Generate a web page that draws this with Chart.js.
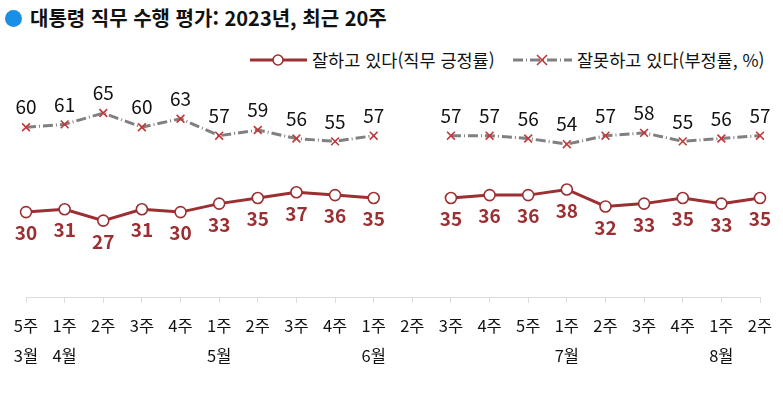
<!DOCTYPE html>
<html lang="ko">
<head>
<meta charset="utf-8">
<script src="https://cdn.jsdelivr.net/npm/chart.js@4"></script>
<style>
  html, body { margin: 0; padding: 0; background: #fff; }
  body { width: 783px; height: 405px; position: relative; overflow: hidden;
         font-family: "Noto Sans CJK KR", "Noto Sans", sans-serif; }
  #title { position: absolute; left: 5px; top: 4px; font-size: 20px; font-weight: bold;
           color: #111; display: flex; align-items: center; line-height: 28px; }
  #title .dot { width: 17px; height: 17px; border-radius: 50%; background: #1a8fe6;
                margin-right: 8px; }
  .legend { position: absolute; top: 47px; display: flex; align-items: center;
            font-size: 17.5px; color: #111; line-height: 26px; }
  .legend svg { margin-right: 3px; }
  #chartWrap { position: absolute; left: 0; top: 0; width: 783px; height: 405px; }
</style>
</head>
<body>
<div id="title"><span class="dot"></span>대통령 직무 수행 평가: 2023년, 최근 20주</div>
<div class="legend" style="left:249px">
  <svg width="60" height="14"><line x1="1" y1="7" x2="58" y2="7" stroke="#9b2f32" stroke-width="3"/><circle cx="29" cy="7" r="5" fill="#fff" stroke="#9b2f32" stroke-width="1.6"/></svg>
  <span>잘하고 있다(직무 긍정률)</span>
</div>
<div class="legend" style="left:512px">
  <svg width="62" height="14"><line x1="1" y1="7" x2="60" y2="7" stroke="#808080" stroke-width="3" stroke-dasharray="10 3 1 3"/><line x1="25" y1="2" x2="35" y2="12" stroke="#c0393b" stroke-width="1.6"/><line x1="35" y1="2" x2="25" y2="12" stroke="#c0393b" stroke-width="1.6"/></svg>
  <span>잘못하고 있다(부정률, %)</span>
</div>
<div id="chartWrap"><canvas id="chart" width="783" height="405"></canvas></div>
<script>
const weekLabels = ['5주','1주','2주','3주','4주','1주','2주','3주','4주','1주',
                    '2주','3주','4주','5주','1주','2주','3주','4주','1주','2주'];
const monthLabels = ['3월','4월','','','','5월','','','','6월',
                     '','','','','7월','','','','8월',''];
const approval = [30,31,27,31,30,33,35,37,36,35,null,35,36,36,38,32,33,35,33,35];
const disapproval = [60,61,65,60,63,57,59,56,55,57,null,57,57,56,54,57,58,55,56,57];

const red = '#9b2f32';
const labelFont = '"Noto Sans CJK KR", "Noto Sans", sans-serif';

// draws the number next to every point
const valueLabels = {
    id: 'valueLabels',
    afterDatasetsDraw(chart) {
        const ctx = chart.ctx;
        ctx.save();
        ctx.textAlign = 'center';
        ctx.textBaseline = 'middle';
        chart.data.datasets.forEach((ds, i) => {
            const meta = chart.getDatasetMeta(i);
            meta.data.forEach((pt, j) => {
                const v = ds.data[j];
                if (v === null) return;
                if (i === 0) {
                    ctx.fillStyle = red;
                    ctx.font = 'bold 19px ' + labelFont;
                    ctx.fillText(String(v), pt.x, pt.y + 21);
                } else {
                    ctx.fillStyle = '#111';
                    ctx.font = '19px ' + labelFont;
                    ctx.fillText(String(v), pt.x, pt.y - 20);
                }
            });
        });
        ctx.restore();
    }
};

const labels = weekLabels.map((w, i) => [w, monthLabels[i]]);

new Chart(document.getElementById('chart'), {
    type: 'line',
    data: {
        labels: labels,
        datasets: [
            {
                label: '잘하고 있다(직무 긍정률)',
                data: approval,
                borderColor: red,
                borderWidth: 3,
                pointStyle: 'circle',
                pointRadius: 5.5,
                pointBackgroundColor: '#fff',
                pointBorderColor: red,
                pointBorderWidth: 1.6,
                spanGaps: false,
                tension: 0
            },
            {
                label: '잘못하고 있다(부정률, %)',
                data: disapproval,
                borderColor: '#808080',
                borderWidth: 3,
                borderDash: [10, 3, 1, 3],
                pointStyle: 'crossRot',
                pointRadius: 5.5,
                pointBorderColor: '#c0393b',
                pointBorderWidth: 1.6,
                spanGaps: false,
                tension: 0
            }
        ]
    },
    options: {
        responsive: false,
        animation: false,
        layout: { padding: { left: 26, right: 23, top: 14, bottom: 0 } },
        scales: {
            x: {
                offset: false,
                grid: { drawOnChartArea: false, color: '#dcdcdc', tickLength: 6 },
                border: { color: '#dcdcdc' },
                ticks: {
                    color: '#111',
                    font: { family: labelFont, size: 16.5, lineHeight: 1.82 },
                    padding: 8,
                    maxRotation: 0,
                    autoSkip: false
                },
                afterFit(scale) { scale.height = 108; }
            },
            y: {
                display: false,
                min: 0,
                max: 100
            }
        },
        plugins: {
            legend: { display: false },
            tooltip: { enabled: false }
        }
    },
    plugins: [valueLabels]
});
</script>
</body>
</html>
